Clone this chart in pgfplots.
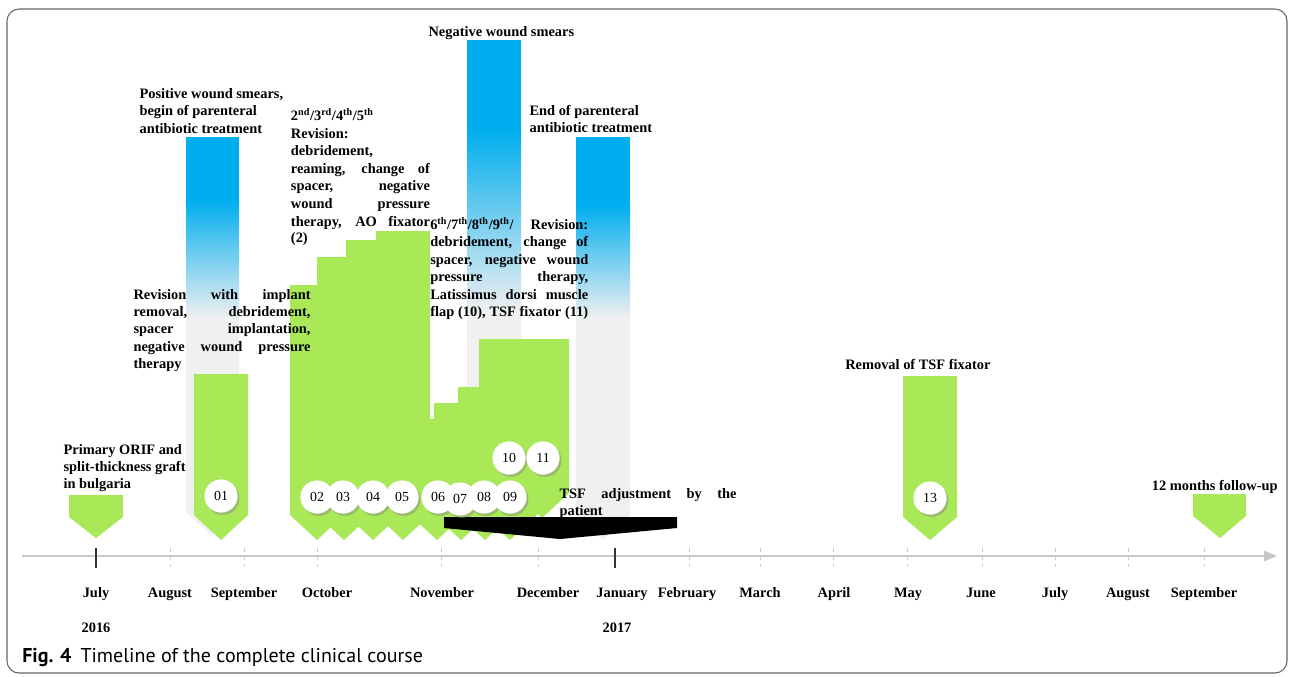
\documentclass[border=0pt]{standalone}
\usepackage{pgfplots}
\pgfplotsset{compat=1.18}
\usepackage{fontspec}
\setmainfont{Liberation Serif}
\newfontfamily\capsans{PT Sans}
\definecolor{grn}{RGB}{169,232,86}
\definecolor{blu}{RGB}{0,174,239}
\definecolor{shd}{RGB}{240,240,240}
\definecolor{axg}{RGB}{200,200,200}
\newcommand{\lab}{\bfseries\fontsize{10.8}{13}\selectfont}
\newcommand{\circfont}{\fontsize{10.4}{12}\selectfont}
\newcommand{\jl}[2]{\makebox[#1][s]{#2}}
\newcommand{\tl}[3]{\node[anchor=base west,inner sep=0pt,font=\lab] at (axis cs:#1,#2) {#3};}
\newcommand{\tc}[3]{\node[anchor=base,inner sep=0pt,font=\lab] at (axis cs:#1,#2) {#3};}
\newcommand{\sps}[1]{\textsuperscript{#1}}
\begin{document}
\begin{tikzpicture}
\begin{axis}[width=969pt,height=507pt,scale only axis,xmin=0,xmax=1292,ymin=0,ymax=676,
  y dir=reverse,hide axis,clip=false]
\addplot[draw=none] coordinates {(0,0) (1292,676)};
% frame
\addplot[draw=black!60, line width=0.8pt, rounded corners=9pt] coordinates {(7,673) (7,9) (1287,9) (1287,673)} --cycle;
% gray shadows of the blue bars
\addplot[fill=shd, draw=none] coordinates {(186,310) (239,310) (239,512) (212,536) (186,512)} --cycle;
\addplot[fill=shd, draw=none] coordinates {(467,300) (521,300) (521,512) (494,536) (467,512)} --cycle;
\addplot[fill=shd, draw=none] coordinates {(576,310) (630,310) (630,515) (603,540) (576,515)} --cycle;
% blue bars
\addplot[fill=blu, draw=none] coordinates {(186,137) (239,137) (239,201) (186,201)} --cycle;
\addplot[draw=none, top color=blu, bottom color=shd] coordinates {(186,200) (239,200) (239,318) (186,318)} --cycle;
\addplot[fill=blu, draw=none] coordinates {(467,40) (521,40) (521,131) (467,131)} --cycle;
\addplot[draw=none, top color=blu, bottom color=shd] coordinates {(467,130) (521,130) (521,312) (467,312)} --cycle;
\addplot[fill=blu, draw=none] coordinates {(576,137) (630,137) (630,206) (576,206)} --cycle;
\addplot[draw=none, top color=blu, bottom color=shd] coordinates {(576,205) (630,205) (630,318) (576,318)} --cycle;
% green arrows
\addplot[fill=grn, draw=none] coordinates {(69,495) (123,495) (123,517) (96,538) (69,517)} --cycle;
\addplot[fill=grn, draw=none] coordinates {(194,374) (248,374) (248,515) (221,540) (194,515)} --cycle;
\addplot[fill=grn, draw=none] coordinates {(290,285) (344,285) (344,515) (317,540) (290,515)} --cycle;
\addplot[fill=grn, draw=none] coordinates {(317,257) (371,257) (371,515) (344,540) (317,515)} --cycle;
\addplot[fill=grn, draw=none] coordinates {(346,240) (400,240) (400,515) (373,540) (346,515)} --cycle;
\addplot[fill=grn, draw=none] coordinates {(376,231) (430,231) (430,515) (403,540) (376,515)} --cycle;
\addplot[fill=grn, draw=none] coordinates {(410,419) (464,419) (464,515) (437,540) (410,515)} --cycle;
\addplot[fill=grn, draw=none] coordinates {(434,403) (488,403) (488,515) (461,540) (434,515)} --cycle;
\addplot[fill=grn, draw=none] coordinates {(458,387) (512,387) (512,515) (485,540) (458,515)} --cycle;
\addplot[fill=grn, draw=none] coordinates {(483,370) (537,370) (537,515) (510,540) (483,515)} --cycle;
\addplot[fill=grn, draw=none] coordinates {(479,339) (533,339) (533,493) (506,518) (479,493)} --cycle;
\addplot[fill=grn, draw=none] coordinates {(515,339) (569,339) (569,493) (542,518) (515,493)} --cycle;
\addplot[fill=grn, draw=none] coordinates {(903,376) (957,376) (957,517) (930,540) (903,517)} --cycle;
\addplot[fill=grn, draw=none] coordinates {(1193,494) (1246,494) (1246,516) (1220,538) (1193,516)} --cycle;
% black TSF adjustment arrow
\addplot[fill=black, draw=none] coordinates {(444,517) (677,517) (677,528) (560,539) (444,528)} --cycle;
% time axis
\addplot[axg, line width=1.5pt] coordinates {(22,556) (1266,556)};
\addplot[fill=axg, draw=none] coordinates {(1264,550.5) (1277,556) (1264,561.5)} --cycle;
\pgfplotsinvokeforeach{170,244,317,441,538,689,760,833,907,982,1055,1128,1204}{
  \addplot[black!20, dashed, line width=0.5pt] coordinates {(#1,548) (#1,567)};
}
\addplot[black!80, line width=0.9pt] coordinates {(96,548) (96,568)};
\addplot[black!80, line width=0.9pt] coordinates {(615,548) (615,568)};
% circles
\addplot[black!45, opacity=0.45, only marks, mark=*, mark size=12.2pt,
  mark options={draw=none, fill=black!45, xshift=1.4pt, yshift=-1.7pt}]
  coordinates {(221,496) (317,497) (343,497) (373,497) (402,497) (438,497) (460,499) (484,497) (510,497) (509,458) (543,458) (930,498)};
\addplot[white, only marks, mark=*, mark size=12.2pt, mark options={draw=white, fill=white}]
  coordinates {(221,496) (317,497) (343,497) (373,497) (402,497) (438,497) (460,499) (484,497) (510,497) (509,458) (543,458) (930,498)};
\addplot[only marks, mark=none,
  point meta=explicit symbolic, nodes near coords, nodes near coords align={center},
  every node near coord/.append style={font=\circfont, text=black, inner sep=0pt}]
  coordinates {(221,496) [01] (317,497) [02] (343,497) [03] (373,497) [04] (402,497) [05] (438,497) [06] (460,499) [07] (484,497) [08] (510,497) [09] (509,458) [10] (543,458) [11] (930,498) [13]};
% labels
\tl{63.3}{454}{Primary ORIF and}
\tl{63.3}{471.3}{split-thickness graft}
\tl{63.3}{488.6}{in bulgaria}
\tl{139.3}{98.5}{Positive wound smears,}
\tl{139.3}{115.8}{begin of parenteral}
\tl{139.3}{133}{antibiotic treatment}
\tl{133.3}{299}{\jl{132.75pt}{Revision with implant}}
\tl{133.3}{316.3}{\jl{132.75pt}{removal, debridement,}}
\tl{133.3}{333.6}{\jl{132.75pt}{spacer implantation,}}
\tl{133.3}{351}{\jl{132.75pt}{negative wound pressure}}
\tl{133.3}{368.3}{therapy}
\tl{290.7}{120.7}{2\sps{nd}/3\sps{rd}/4\sps{th}/5\sps{th}}
\tl{290.7}{138.3}{Revision:}
\tl{290.7}{155.7}{debridement,}
\tl{290.7}{173.3}{\jl{104.25pt}{reaming, change of}}
\tl{290.7}{190.7}{\jl{104.25pt}{spacer, negative}}
\tl{290.7}{208.3}{\jl{104.25pt}{wound pressure}}
\tl{290.7}{226}{\jl{104.25pt}{therapy, AO fixator}}
\tl{290.7}{242.7}{(2)}
\tl{428.3}{36.7}{Negative wound smears}
\tl{529.3}{115}{End of parenteral}
\tl{529.3}{132.3}{antibiotic treatment}
\tl{430}{229.5}{\jl{118.5pt}{6\sps{th}/7\sps{th}/8\sps{th}/9\sps{th}/ Revision:}}
\tl{430}{246.7}{\jl{118.5pt}{debridement, change of}}
\tl{430}{264.3}{\jl{118.5pt}{spacer, negative wound}}
\tl{430}{281.7}{\jl{118.5pt}{pressure therapy,}}
\tl{430}{299}{\jl{118.5pt}{Latissimus dorsi muscle}}
\tl{430}{316.7}{\jl{118.5pt}{flap (10), TSF fixator (11)}}
\tl{559.3}{498.3}{\jl{132.75pt}{TSF adjustment by the}}
\tl{559.3}{515.6}{patient}
\tl{845}{369.3}{Removal of TSF fixator}
\tl{1151.7}{490.7}{12 months follow-up}
% months
\tc{96}{597}{July}
\tc{170}{597}{August}
\tc{244}{597}{September}
\tc{327}{597}{October}
\tc{442}{597}{November}
\tc{548}{597}{December}
\tc{622}{597}{January}
\tc{687}{597}{February}
\tc{760}{597}{March}
\tc{834}{597}{April}
\tc{908}{597}{May}
\tc{981}{597}{June}
\tc{1055}{597}{July}
\tc{1128}{597}{August}
\tc{1204}{597}{September}
\tc{96}{632}{2016}
\tc{617}{632}{2017}
% caption
\node[anchor=base west,inner sep=0pt] at (axis cs:22,662) {\capsans\fontsize{15}{17}\selectfont\textbf{Fig. 4}\hspace{0.45em}Timeline of the complete clinical course};
\end{axis}
\end{tikzpicture}
\end{document}
